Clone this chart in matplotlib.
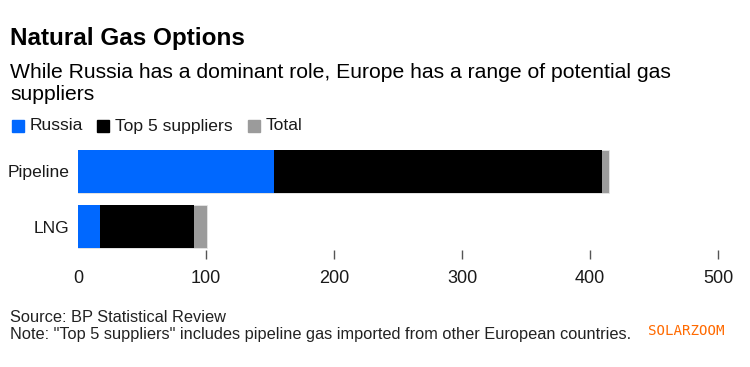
import matplotlib
matplotlib.use("Agg")
import matplotlib.pyplot as plt
from matplotlib.patches import Rectangle

categories = ["Pipeline", "LNG"]
russia = [153, 17]
top5 = [409, 91]
total = [415, 101]
xticks = [0, 100, 200, 300, 400, 500]

plt.rcParams['font.family'] = ['Liberation Sans', 'DejaVu Sans']

fig = plt.figure(figsize=(7.5, 3.67), dpi=100)
ax = fig.add_axes([78/750, 1-250/367, 640/750, 102/367])

ypos = list(range(len(categories)))
h = 0.78
ax.barh(ypos, total, height=h, color="#9b9b9b", edgecolor="#e6e6e6", linewidth=0.6)
ax.barh(ypos, top5, height=h, color="#000000", linewidth=0)
ax.barh(ypos, russia, height=h, color="#0068ff", linewidth=0)

ax.set_xlim(0, 500)
ax.set_ylim(1.426, -0.426)
ax.set_yticks(ypos)
ax.set_yticklabels(categories, fontsize=12.6, color="#1a1a1a")
ax.set_xticks(xticks)
ax.set_xticklabels([str(t) for t in xticks], fontsize=13, color="#1a1a1a")
ax.tick_params(axis='y', length=0, pad=6)
ax.tick_params(axis='x', length=6.5, width=1, color="#555555", pad=8)
ax.xaxis.get_major_ticks()[0].tick1line.set_visible(False)
for s in ax.spines.values():
    s.set_visible(False)

fig.text(10/750, 1-38/367, "Natural Gas Options", fontsize=17.5, fontweight='bold', va='center', color="#000000")
fig.text(10/750, 1-72/367, "While Russia has a dominant role, Europe has a range of potential gas",
         fontsize=15.2, va='center', color="#000000")
fig.text(10/750, 1-95/367, "suppliers", fontsize=15.2, va='center', color="#000000")

# legend
items = [("Russia", "#0068ff"), ("Top 5 suppliers", "#000000"), ("Total", "#9b9b9b")]
xs = [12, 97, 248]
for (lab, col), x0 in zip(items, xs):
    fig.patches.append(Rectangle((x0/750, 1-132/367), 12/750, 12/367, transform=fig.transFigure,
                                 color=col, figure=fig))
    fig.text((x0+18)/750, 1-126/367, lab, fontsize=12.6, va='center', color="#1a1a1a")

fig.text(10/750, 1-318/367, "Source: BP Statistical Review", fontsize=11.8, va='center',
         color="#222222")
fig.text(10/750, 1-335/367, "Note: \"Top 5 suppliers\" includes pipeline gas imported from other European countries.",
         fontsize=11.8, va='center', color="#222222")
fig.text(648/750, 1-331/367, "SOLARZOOM", fontsize=10.2, va='center', color="#ff6a00",
         family=['DejaVu Sans Mono'])

fig.savefig("out.png", dpi=100)
